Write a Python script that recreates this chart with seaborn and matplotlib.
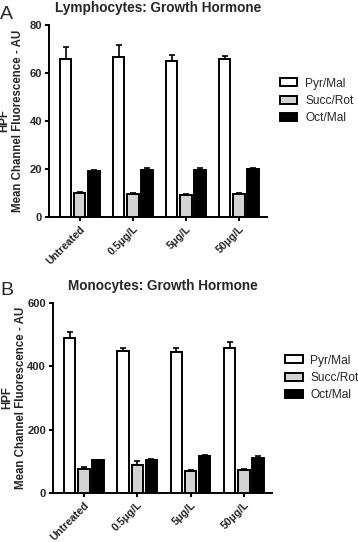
import matplotlib
matplotlib.use("Agg")
import matplotlib.pyplot as plt
import seaborn as sns
import pandas as pd
from matplotlib.patches import Patch

# ---------------- data ----------------
categories = ["Untreated", "0.5\u03bcg/L", "5\u03bcg/L", "50\u03bcg/L"]
series = ["Pyr/Mal", "Succ/Rot", "Oct/Mal"]

lymph_pyr = [66.0, 66.5, 65.0, 66.0]
lymph_pyr_err = [5.0, 5.0, 2.5, 1.0]
lymph_succ = [10.0, 9.7, 9.3, 9.5]
lymph_succ_err = [0.5, 0.3, 0.3, 0.3]
lymph_oct = [19.0, 19.7, 19.7, 19.8]
lymph_oct_err = [0.4, 0.8, 0.8, 0.8]

mono_pyr = [489.0, 447.0, 444.0, 457.0]
mono_pyr_err = [19.0, 10.0, 15.0, 21.0]
mono_succ = [77.0, 89.0, 70.0, 73.0]
mono_succ_err = [4.0, 12.0, 2.0, 2.0]
mono_oct = [103.0, 105.0, 116.0, 112.0]
mono_oct_err = [2.0, 3.0, 5.0, 4.0]

titles = ["Lymphocytes: Growth Hormone", "Monocytes: Growth Hormone"]
panel_letters = ["A", "B"]
ylabel = "HPF\nMean Channel Fluorescence - AU"
lymph_yticks = [0, 20, 40, 60, 80]
mono_yticks = [0, 200, 400, 600]

colors = ["#ffffff", "#d3d3d3", "#000000"]

# ---------------- style ----------------
sns.set_style("ticks")
plt.rcParams["font.family"] = ["Liberation Sans", "DejaVu Sans"]

fig = plt.figure(figsize=(3.58, 5.42), dpi=100)
axA = fig.add_axes([0.137, 0.5996, 0.609, 0.3543])
axB = fig.add_axes([0.148, 0.0904, 0.612, 0.3506])


def make_df(vals, errs):
    rows = []
    for s, v, e in zip(series, vals, errs):
        for c, vv, ee in zip(categories, v, e):
            rows.append({"cond": c, "series": s, "value": vv, "err": ee})
    return pd.DataFrame(rows)


def draw(ax, df, yticks, title, letter, ylab_x, legend_xy, title_pad, letter_y):
    sns.barplot(data=df, x="cond", y="value", hue="series", order=categories,
                hue_order=series, palette=colors, edgecolor="black",
                linewidth=1.4, width=0.8, gap=0.2, errorbar=None,
                legend=False, ax=ax, zorder=3)
    for cont, s in zip(ax.containers, series):
        sub = df[df["series"] == s].set_index("cond").loc[categories]
        xs = [b.get_x() + b.get_width() / 2 for b in cont]
        ys = [b.get_height() for b in cont]
        errs = list(sub["err"])
        ax.errorbar(xs, ys, yerr=[[0] * len(errs), errs], fmt="none",
                    ecolor="black", elinewidth=1.2, capsize=2.5,
                    capthick=1.2, zorder=2)
    ax.set_ylim(yticks[0], yticks[-1])
    ax.set_yticks(yticks)
    ax.set_xlim(-0.58, 3.53)
    ax.set_xlabel("")
    ax.set_ylabel(ylabel, fontsize=8.3, fontweight="bold", linespacing=1.15)
    ax.yaxis.set_label_coords(ylab_x, 0.5)
    ax.set_title(title, fontsize=9.8, fontweight="bold", pad=title_pad)
    sns.despine(ax=ax)
    for sp in ["left", "bottom"]:
        ax.spines[sp].set_linewidth(1.4)
        ax.spines[sp].set_color("black")
    ax.tick_params(axis="both", length=3, width=1.4, color="black",
                   labelsize=8, pad=2)
    for lab in ax.get_yticklabels():
        lab.set_fontweight("bold")
    ax.set_xticks(range(len(categories)))
    ax.set_xticklabels(categories, rotation=45, ha="right",
                       rotation_mode="anchor", fontweight="bold", fontsize=7.7)
    handles = [Patch(facecolor=c, edgecolor="black", linewidth=1.4) for c in colors]
    ax.legend(handles, series, loc="center left", bbox_to_anchor=legend_xy,
              frameon=False, fontsize=8.6, handlelength=1.45,
              handleheight=0.65, handletextpad=0.65, labelspacing=0.45,
              borderpad=0, borderaxespad=0)
    fig.text(0.0, letter_y, letter, fontsize=14, ha="left", va="center")


draw(axA, make_df([lymph_pyr, lymph_succ, lymph_oct],
                  [lymph_pyr_err, lymph_succ_err, lymph_oct_err]),
     lymph_yticks, titles[0], panel_letters[0], -0.115, (1.06, 0.604), 9.0,
     1 - 14.5 / 542)
draw(axB, make_df([mono_pyr, mono_succ, mono_oct],
                  [mono_pyr_err, mono_succ_err, mono_oct_err]),
     mono_yticks, titles[1], panel_letters[1], -0.12, (1.06, 0.605), 9.5,
     1 - 290.5 / 542)

fig.savefig("out.png", dpi=100, facecolor="white")
